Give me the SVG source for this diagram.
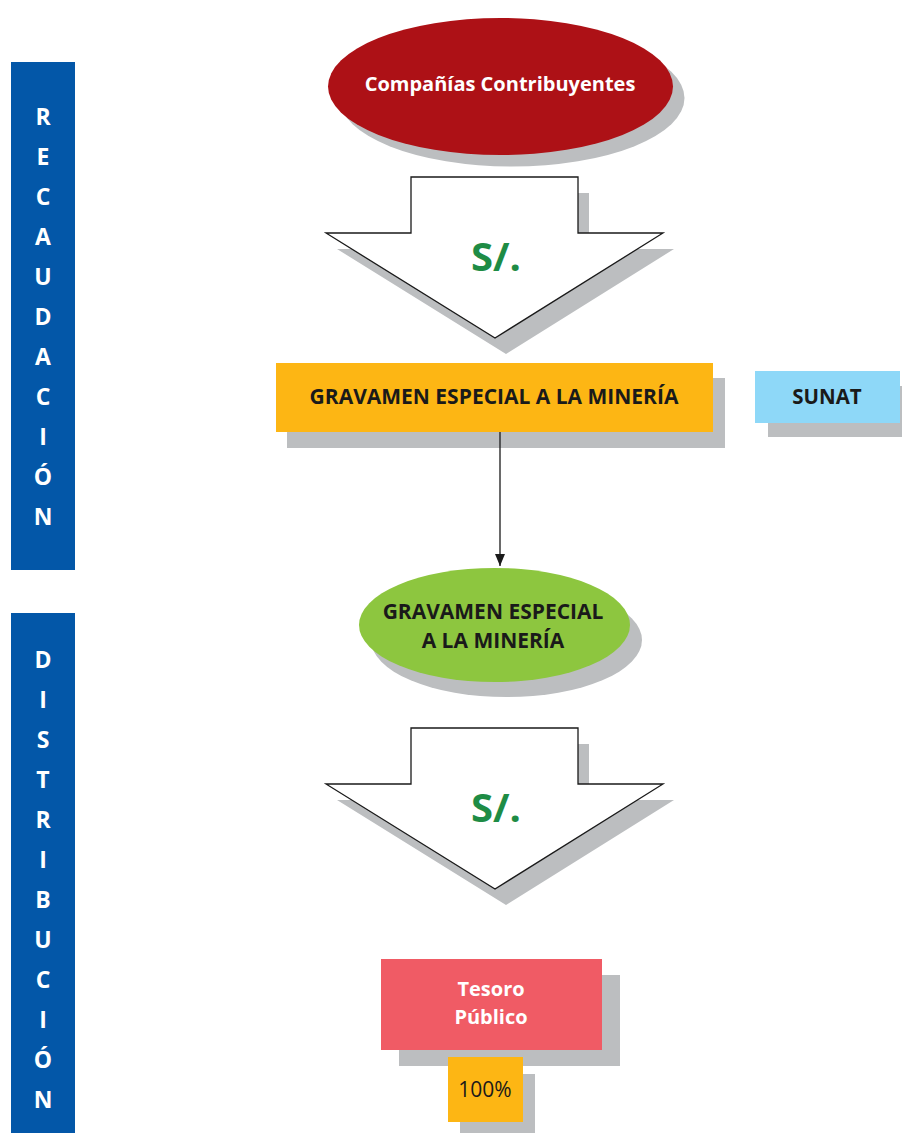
<svg xmlns="http://www.w3.org/2000/svg" width="902" height="1133" viewBox="0 0 902 1133">
<defs>
<style>
.bar{fill:#0357A8}
.barT{font-family:"Open Sans","Liberation Sans",sans-serif;font-weight:700;font-size:23px;fill:#fff;text-anchor:middle}
.sh{fill:#BCBEC0}
.lbl{font-family:"Open Sans","Liberation Sans",sans-serif;font-weight:700;font-size:21px;text-anchor:middle}
.dark{fill:#1a1a1a}
.white{fill:#fff}
.arrow{fill:#fff;stroke:#1a1a1a;stroke-width:1.3}
.money{font-family:"Open Sans","Liberation Sans",sans-serif;font-weight:700;font-size:40px;fill:#1E8C45;text-anchor:middle}
</style>
<marker id="ah" markerWidth="12" markerHeight="10" refX="12" refY="5" orient="auto" markerUnits="userSpaceOnUse">
<path d="M0,0 L12,5 L0,10 Z" fill="#1a1a1a"/>
</marker>
</defs>
<rect width="902" height="1133" fill="#fff"/>

<g id="recaudacion">
<rect class="bar" x="11" y="62" width="64" height="508"/>
<text class="barT" x="43" y="125">R</text>
<text class="barT" x="43" y="165">E</text>
<text class="barT" x="43" y="205">C</text>
<text class="barT" x="43" y="245">A</text>
<text class="barT" x="43" y="285">U</text>
<text class="barT" x="43" y="325">D</text>
<text class="barT" x="43" y="365">A</text>
<text class="barT" x="43" y="405">C</text>
<text class="barT" x="43" y="445">I</text>
<text class="barT" x="43" y="485">Ó</text>
<text class="barT" x="43" y="525">N</text>
</g>

<g id="distribucion">
<rect class="bar" x="11" y="613" width="64" height="520"/>
<text class="barT" x="43" y="668">D</text>
<text class="barT" x="43" y="708">I</text>
<text class="barT" x="43" y="748">S</text>
<text class="barT" x="43" y="788">T</text>
<text class="barT" x="43" y="828">R</text>
<text class="barT" x="43" y="868">I</text>
<text class="barT" x="43" y="908">B</text>
<text class="barT" x="43" y="948">U</text>
<text class="barT" x="43" y="988">C</text>
<text class="barT" x="43" y="1028">I</text>
<text class="barT" x="43" y="1068">Ó</text>
<text class="barT" x="43" y="1108">N</text>
</g>

<g id="companias">
<ellipse class="sh" cx="512" cy="98" rx="172.5" ry="68.5"/>
<ellipse cx="500.5" cy="86.5" rx="172.5" ry="68.5" fill="#AD1116"/>
<text class="lbl white" x="500" y="91" style="font-size:20px">Compañías Contribuyentes</text>
</g>

<g id="flecha1">
<path class="sh" d="M422,193 H589 V249 H674 L506,354 L337,249 H422 Z"/>
<path class="arrow" d="M411,177 H578 V233 H663 L495,338 L326,233 H411 Z"/>
<text class="money" x="496" y="271">S/.</text>
</g>

<g id="gravamen1">
<rect class="sh" x="287" y="378" width="438" height="70"/>
<rect x="276" y="363" width="437" height="69" fill="#FDB614"/>
<text class="lbl dark" x="494" y="404">GRAVAMEN ESPECIAL A LA MINERÍA</text>
</g>

<g id="sunat">
<rect class="sh" x="768" y="386" width="134" height="51"/>
<rect x="755" y="371" width="145" height="52" fill="#8ED8F8"/>
<text class="lbl dark" x="827" y="404" style="font-size:20.5px">SUNAT</text>
</g>

<g id="connectors">
<line x1="500" y1="432" x2="500" y2="566" stroke="#1a1a1a" stroke-width="1.3" marker-end="url(#ah)"/>
</g>

<g id="gravamen2">
<ellipse class="sh" cx="506.5" cy="640" rx="135.5" ry="57"/>
<ellipse cx="494.5" cy="625" rx="135.5" ry="57" fill="#8DC63F"/>
<text class="lbl dark" x="493" y="619">GRAVAMEN ESPECIAL</text>
<text class="lbl dark" x="493" y="648">A LA MINERÍA</text>
</g>

<g id="flecha2">
<path class="sh" d="M422,744 H589 V800 H674 L506,905 L337,800 H422 Z"/>
<path class="arrow" d="M411,728 H578 V784 H663 L495,889 L326,784 H411 Z"/>
<text class="money" x="496" y="822">S/.</text>
</g>

<g id="tesoro">
<rect class="sh" x="399" y="975" width="221" height="91"/>
<rect x="381" y="959" width="221" height="91" fill="#F05B65"/>
<text class="lbl white" x="491" y="996" style="font-size:20px">Tesoro</text>
<text class="lbl white" x="491" y="1024" style="font-size:20px">Público</text>
</g>

<g id="porcentaje">
<rect class="sh" x="460" y="1074" width="75" height="59"/>
<rect x="448" y="1057" width="75" height="65" fill="#FDB614"/>
<text class="lbl dark" x="485" y="1097" style="font-weight:400;font-size:21px">100%</text>
</g>
</svg>
